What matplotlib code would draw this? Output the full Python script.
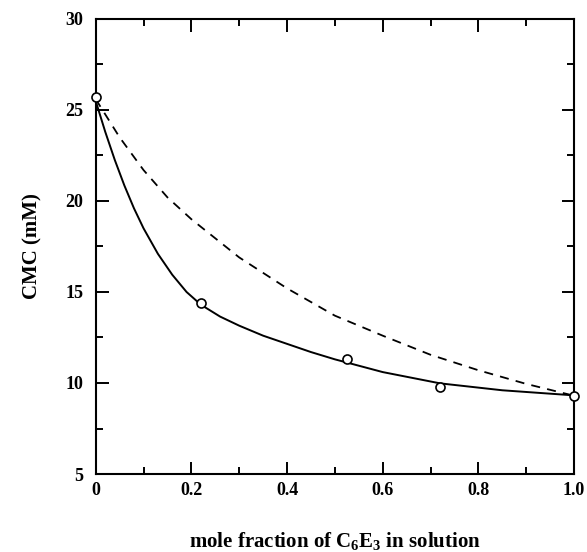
import matplotlib
matplotlib.use('Agg')
import matplotlib.pyplot as plt
from matplotlib.ticker import MultipleLocator, FixedLocator, FixedFormatter

plt.rcParams['font.family'] = ['Liberation Serif', 'DejaVu Serif']
plt.rcParams['font.weight'] = 'bold'
plt.rcParams['mathtext.fontset'] = 'custom'
plt.rcParams['mathtext.rm'] = 'Liberation Serif:bold'
plt.rcParams['mathtext.it'] = 'Liberation Serif:bold'
plt.rcParams['mathtext.bf'] = 'Liberation Serif:bold'

# measured CMC values
x_meas = [0.0, 0.22, 0.525, 0.72, 1.0]
cmc_meas = [25.7, 14.4, 11.3, 9.8, 9.3]

# regular solution fit (solid)
x_fit = [0, 0.02, 0.04, 0.06, 0.08, 0.1, 0.13, 0.16, 0.19, 0.22, 0.26, 0.3,
         0.35, 0.4, 0.45, 0.5, 0.6, 0.72, 0.85, 1.0]
cmc_fit = [25.5, 23.8, 22.25, 20.85, 19.6, 18.5, 17.1, 15.95, 15.0, 14.3, 13.65, 13.15,
           12.6, 12.15, 11.7, 11.3, 10.6, 9.98, 9.6, 9.32]

# ideal mixing (dashed)
x_ideal = [0, 0.05, 0.1, 0.15, 0.2, 0.3, 0.4, 0.5, 0.6, 0.7, 0.8, 0.9, 1.0]
cmc_ideal = [25.6, 23.5, 21.7, 20.2, 19.0, 16.9, 15.2, 13.7, 12.6, 11.55, 10.7, 9.95, 9.3]

x_tick_vals = [0, 0.2, 0.4, 0.6, 0.8, 1.0]
x_tick_text = ['0', '0.2', '0.4', '0.6', '0.8', '1.0']

fig = plt.figure(figsize=(5.87, 5.52), dpi=100)
ax = fig.add_axes([0.163, 0.1413, 0.815, 0.8243])

ax.plot(x_fit, cmc_fit, color='black', lw=1.4, zorder=2)
ax.plot(x_ideal, cmc_ideal, color='black', lw=1.3, ls=(0, (5, 4)), zorder=2)
ax.plot(x_meas, cmc_meas, 'o', ms=6.5, mfc='white', mec='black', mew=1.2,
        zorder=3, clip_on=False)

ax.set_xlim(0, 1.0)
ax.set_ylim(5, 30)
ax.xaxis.set_major_locator(FixedLocator(x_tick_vals))
ax.xaxis.set_major_formatter(FixedFormatter(x_tick_text))
ax.xaxis.set_minor_locator(MultipleLocator(0.1))
ax.yaxis.set_major_locator(MultipleLocator(5))
ax.yaxis.set_minor_locator(MultipleLocator(2.5))

ax.tick_params(which='both', direction='in', top=True, right=True, width=1.4)
ax.tick_params(which='major', length=9, labelsize=13, pad=6)
ax.tick_params(which='minor', length=5)
ax.tick_params(axis='y', which='major', pad=9)
for lab in ax.get_xticklabels() + ax.get_yticklabels():
    lab.set_fontweight('bold')
for sp in ax.spines.values():
    sp.set_linewidth(1.5)

ax.set_ylabel('CMC (mM)', fontsize=15, fontweight='bold', labelpad=16)
ax.set_xlabel(r'mole fraction of C$_{6}$E$_{3}$ in solution', fontsize=15,
              fontweight='bold', labelpad=22)

fig.savefig('out.png', dpi=100)
